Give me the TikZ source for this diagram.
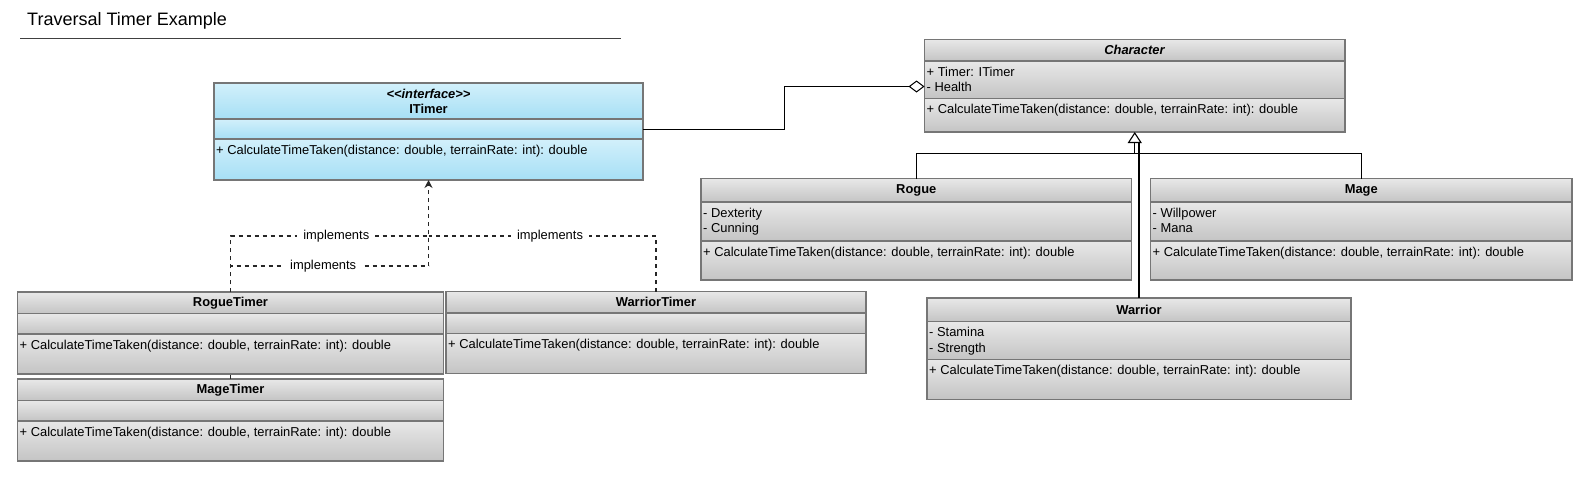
\documentclass[tikz,border=0pt]{standalone}
\usepackage{fontspec}
\setmainfont{Liberation Sans}
\usetikzlibrary{positioning,arrows.meta}

\definecolor{boxline}{HTML}{767676}
\definecolor{graytop}{HTML}{E8E8E8}
\definecolor{graybot}{HTML}{C4C4C4}
\definecolor{bluetop}{HTML}{D2F0FB}
\definecolor{bluebot}{HTML}{A6DFF5}

\tikzset{
  compartment/.style={draw=boxline, line width=1.8pt, top color=graytop, bottom color=graybot,
    inner sep=0pt, outer sep=0pt, anchor=north west},
  ifacepart/.style={compartment, top color=bluetop, bottom color=bluebot},
  classname/.style={font=\fontsize{12.9}{15.2}\selectfont\bfseries, align=center},
  member/.style={anchor=north west, inner xsep=2pt, inner ysep=5.5pt, align=left,
    font=\fontsize{12.9}{15.5}\selectfont},
  titletext/.style={anchor=west, inner sep=0pt, font=\fontsize{18}{20}\selectfont},
  titlerule/.style={draw=black!75, line width=1.2pt},
  aggregate/.style={draw=black, line width=1pt, -{Diamond[open, length=16pt, width=12pt]}},
  inherit/.style={draw=black, line width=1.1pt},
  realize/.style={draw=black!85, line width=1.3pt, dash pattern=on 4pt off 4pt},
  implabel/.style={fill=white, inner xsep=6pt, inner ysep=1pt, font=\fontsize{12.9}{15}\selectfont}
}

\begin{document}
\begin{tikzpicture}[x=1pt, y=-1pt]
\useasboundingbox (0,0) rectangle (1590,483);

% Title
\node[titletext] (title) at (27,21) {Traversal Timer Example};
\draw[titlerule] (20,38.5) -- (621,38.5);

% ITimer (interface)
\node[ifacepart, classname, minimum width=429, minimum height=36] (itimer-head) at (214,83) {\textit{<{}<interface>{}>}\\ITimer};
\node[ifacepart, minimum width=429, minimum height=20, below=0pt of itimer-head] (itimer-attr) {};
\node[ifacepart, minimum width=429, minimum height=41, below=0pt of itimer-attr] (itimer-ops) {};
\node[member] (itimer-ops-text) at (itimer-ops.north west) {+ CalculateTimeTaken(distance: double, terrainRate: int): double};

% Character (abstract)
\node[compartment, classname, minimum width=420.5, minimum height=21.5] (character-head) at (924.5,39.5) {\textit{Character}};
\node[compartment, minimum width=420.5, minimum height=37.5, below=0pt of character-head] (character-attr) {};
\node[compartment, minimum width=420.5, minimum height=33.5, below=0pt of character-attr] (character-ops) {};
\node[member] (character-attr-text) at (character-attr.north west) {+ Timer: ITimer\\- Health};
\node[member] (character-ops-text) at (character-ops.north west) {+ CalculateTimeTaken(distance: double, terrainRate: int): double};

% Rogue
\node[compartment, classname, minimum width=430.5, minimum height=23.5] (rogue-head) at (701,178.5) {Rogue};
\node[compartment, minimum width=430.5, minimum height=39, below=0pt of rogue-head] (rogue-attr) {};
\node[compartment, minimum width=430.5, minimum height=39, below=0pt of rogue-attr] (rogue-ops) {};
\node[member] (rogue-attr-text) at (rogue-attr.north west) {- Dexterity\\- Cunning};
\node[member] (rogue-ops-text) at (rogue-ops.north west) {+ CalculateTimeTaken(distance: double, terrainRate: int): double};

% Mage
\node[compartment, classname, minimum width=421.5, minimum height=23.5] (mage-head) at (1150.5,178.5) {Mage};
\node[compartment, minimum width=421.5, minimum height=39, below=0pt of mage-head] (mage-attr) {};
\node[compartment, minimum width=421.5, minimum height=39, below=0pt of mage-attr] (mage-ops) {};
\node[member] (mage-attr-text) at (mage-attr.north west) {- Willpower\\- Mana};
\node[member] (mage-ops-text) at (mage-ops.north west) {+ CalculateTimeTaken(distance: double, terrainRate: int): double};

% Warrior
\node[compartment, classname, minimum width=424, minimum height=23.5] (warrior-head) at (927,298) {Warrior};
\node[compartment, minimum width=424, minimum height=38, below=0pt of warrior-head] (warrior-attr) {};
\node[compartment, minimum width=424, minimum height=40, below=0pt of warrior-attr] (warrior-ops) {};
\node[member] (warrior-attr-text) at (warrior-attr.north west) {- Stamina\\- Strength};
\node[member] (warrior-ops-text) at (warrior-ops.north west) {+ CalculateTimeTaken(distance: double, terrainRate: int): double};

% RogueTimer
\node[compartment, classname, minimum width=426, minimum height=21.5] (roguetimer-head) at (17.5,292) {RogueTimer};
\node[compartment, minimum width=426, minimum height=20.5, below=0pt of roguetimer-head] (roguetimer-attr) {};
\node[compartment, minimum width=426, minimum height=40, below=0pt of roguetimer-attr] (roguetimer-ops) {};
\node[member] (roguetimer-ops-text) at (roguetimer-ops.north west) {+ CalculateTimeTaken(distance: double, terrainRate: int): double};

% MageTimer
\node[compartment, classname, minimum width=426, minimum height=21.5] (magetimer-head) at (17.5,379) {MageTimer};
\node[compartment, minimum width=426, minimum height=20.5, below=0pt of magetimer-head] (magetimer-attr) {};
\node[compartment, minimum width=426, minimum height=40, below=0pt of magetimer-attr] (magetimer-ops) {};
\node[member] (magetimer-ops-text) at (magetimer-ops.north west) {+ CalculateTimeTaken(distance: double, terrainRate: int): double};

% WarriorTimer
\node[compartment, classname, minimum width=420, minimum height=21.5] (warriortimer-head) at (446,291.5) {WarriorTimer};
\node[compartment, minimum width=420, minimum height=20.5, below=0pt of warriortimer-head] (warriortimer-attr) {};
\node[compartment, minimum width=420, minimum height=40, below=0pt of warriortimer-attr] (warriortimer-ops) {};
\node[member] (warriortimer-ops-text) at (warriortimer-ops.north west) {+ CalculateTimeTaken(distance: double, terrainRate: int): double};

% Aggregation ITimer -> Character
\coordinate (health) at (924.5,86.5);
\draw[aggregate] (itimer-attr.east) -- ++(141,0) |- (health);

% Generalization to Character
\coordinate (bus) at (character-ops.south |- 0,153.5);
\coordinate (gen-base) at (character-ops.south |- 0,143);
\draw[inherit] (rogue-head.north) |- (bus) -| (mage-head.north);
\draw[inherit] (bus) -- (gen-base);
\draw[inherit] (warrior-head.north) -- (warrior-head.north |- gen-base);
\draw[inherit, -{Triangle[open, length=11pt, width=14pt]}] (gen-base) -- (character-ops.south);

% Realizations of ITimer
\coordinate (hi-join) at (itimer-ops.south |- 0,236);
\coordinate (lo-join) at (itimer-ops.south |- 0,266);
\draw[realize] (roguetimer-head.north) |- node[implabel, pos=0.767] {implements} (hi-join);
\draw[realize] (magetimer-head.north) -- (roguetimer-ops.south);
\draw[realize] (roguetimer-head.north) |- node[implabel, pos=0.734] {implements} (lo-join);
\draw[realize] (warriortimer-head.north) |- node[implabel, pos=0.733] {implements} (hi-join);
\draw[realize, -{Stealth[length=8pt, width=8pt]}] (lo-join) -- (itimer-ops.south);

\end{tikzpicture}
\end{document}
